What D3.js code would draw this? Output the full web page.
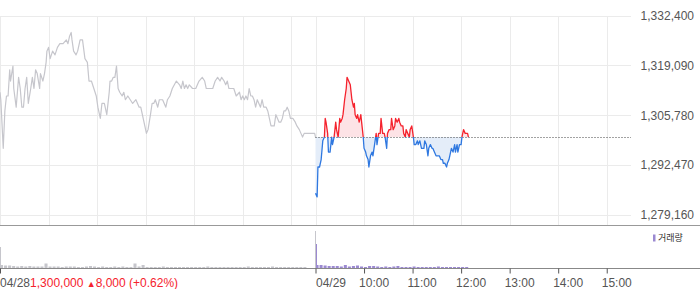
<!DOCTYPE html>
<html>
<head>
<meta charset="utf-8">
<script src="https://cdn.jsdelivr.net/npm/d3@7"></script>
<style>
  html, body { margin: 0; padding: 0; background: #fff; }
  svg { display: block; font-family: 'Liberation Sans', Arial, sans-serif; }
</style>
</head>
<body>
<svg id="chart" width="700" height="289"></svg>
<script>
// Intraday price chart (two sessions) with volume panel

const dates = ['04/28', '04/29'];
const hourLabels = ['10:00', '11:00', '12:00', '13:00', '14:00', '15:00'];
const priceTicks = [1279160, 1292470, 1305780, 1319090, 1332400];
const basePrice = 1300000;        // previous close for 04/29
const closeInfo = ['1,300,000 ', '▲', '8,000 (+0.62%)'];
const legendLabel = '거래량';

// prices in thousand won, [time, price]
const day1Prices = [
  ['09:00', 1312], ['09:01', 1310], ['09:04', 1297], ['09:06', 1307], ['09:08', 1311],
  ['09:10', 1311], ['09:12', 1318], ['09:13', 1315], ['09:16', 1319], ['09:17', 1313],
  ['09:20', 1308], ['09:23', 1316], ['09:25', 1313], ['09:27', 1308], ['09:29', 1308],
  ['09:31', 1313], ['09:33', 1316], ['09:35', 1309], ['09:38', 1313], ['09:40', 1316],
  ['09:42', 1313], ['09:44', 1318], ['09:46', 1317], ['09:49', 1313], ['09:50', 1317],
  ['09:53', 1315], ['09:55', 1317], ['09:57', 1320], ['09:58', 1323], ['10:00', 1324],
  ['10:02', 1321], ['10:05', 1323], ['10:08', 1322], ['10:11', 1324], ['10:14', 1325],
  ['10:18', 1325], ['10:22', 1326], ['10:24', 1325], ['10:26', 1327], ['10:28', 1328],
  ['10:29', 1326], ['10:31', 1323], ['10:34', 1322], ['10:36', 1323], ['10:39', 1326],
  ['10:42', 1326], ['10:45', 1321], ['10:48', 1320], ['10:50', 1315], ['10:53', 1315],
  ['10:56', 1313], ['10:59', 1311], ['11:01', 1308], ['11:04', 1305], ['11:06', 1309],
  ['11:09', 1309], ['11:12', 1306], ['11:15', 1312], ['11:16', 1315], ['11:18', 1315],
  ['11:20', 1316], ['11:22', 1316], ['11:24', 1319], ['11:26', 1313], ['11:28', 1312],
  ['11:31', 1311], ['11:33', 1312], ['11:35', 1310], ['11:38', 1311], ['11:41', 1310],
  ['11:44', 1309], ['11:48', 1310], ['11:52', 1308], ['11:54', 1308], ['11:57', 1305],
  ['11:59', 1303], ['12:01', 1301], ['12:03', 1302], ['12:06', 1306], ['12:08', 1309],
  ['12:10', 1309], ['12:12', 1310], ['12:15', 1308], ['12:17', 1310], ['12:21', 1310],
  ['12:23', 1309], ['12:25', 1308], ['12:27', 1310], ['12:30', 1311], ['12:33', 1313],
  ['12:38', 1315], ['12:42', 1314], ['12:44', 1313], ['12:46', 1315], ['12:48', 1313],
  ['12:50', 1314], ['12:52', 1313], ['12:54', 1314], ['12:58', 1313], ['13:02', 1313],
  ['13:06', 1315], ['13:10', 1316], ['13:13', 1315], ['13:15', 1313], ['13:19', 1313],
  ['13:23', 1313], ['13:26', 1315], ['13:29', 1316], ['13:32', 1315], ['13:34', 1316],
  ['13:37', 1315], ['13:39', 1314], ['13:41', 1315], ['13:43', 1313], ['13:45', 1313],
  ['13:49', 1313], ['13:52', 1311], ['13:56', 1312], ['13:58', 1310], ['14:00', 1311],
  ['14:02', 1310], ['14:04', 1311], ['14:06', 1310], ['14:08', 1313], ['14:10', 1311],
  ['14:12', 1311], ['14:14', 1310], ['14:16', 1308], ['14:18', 1310], ['14:20', 1309],
  ['14:22', 1308], ['14:24', 1310], ['14:26', 1308], ['14:29', 1308], ['14:31', 1307],
  ['14:33', 1305], ['14:35', 1303], ['14:37', 1303], ['14:39', 1303], ['14:41', 1306],
  ['14:43', 1305], ['14:45', 1304], ['14:47', 1304], ['14:49', 1305], ['14:51', 1307],
  ['14:53', 1307], ['14:55', 1308], ['14:57', 1307], ['14:59', 1305], ['15:02', 1305],
  ['15:05', 1304], ['15:07', 1303], ['15:10', 1302], ['15:12', 1301], ['15:14', 1300],
  ['15:16', 1301], ['15:18', 1301], ['15:20', 1301], ['15:29', 1301], ['15:30', 1300],
];

const day2Prices = [
  ['09:00', 1285], ['09:02', 1284], ['09:03', 1292], ['09:05', 1292], ['09:07', 1294],
  ['09:09', 1299], ['09:11', 1300], ['09:12', 1305], ['09:13', 1304], ['09:15', 1301],
  ['09:16', 1296], ['09:18', 1296], ['09:20', 1300], ['09:21', 1298], ['09:23', 1300],
  ['09:25', 1304], ['09:26', 1302], ['09:28', 1300], ['09:30', 1305], ['09:31', 1304],
  ['09:33', 1305], ['09:34', 1306], ['09:36', 1310], ['09:38', 1313], ['09:39', 1316],
  ['09:41', 1315], ['09:43', 1314], ['09:44', 1312], ['09:45', 1310], ['09:47', 1308],
  ['09:48', 1309], ['09:49', 1306], ['09:51', 1305], ['09:52', 1306], ['09:54', 1304],
  ['09:56', 1306], ['09:57', 1304], ['09:59', 1300], ['10:00', 1297], ['10:02', 1296],
  ['10:03', 1295], ['10:05', 1294], ['10:06', 1292], ['10:08', 1295], ['10:10', 1296],
  ['10:11', 1295], ['10:13', 1298], ['10:15', 1301], ['10:16', 1298], ['10:18', 1301],
  ['10:20', 1301], ['10:21', 1305], ['10:23', 1301], ['10:25', 1301], ['10:26', 1300],
  ['10:28', 1297], ['10:29', 1301], ['10:31', 1302], ['10:33', 1302], ['10:34', 1305],
  ['10:36', 1302], ['10:38', 1303], ['10:39', 1305], ['10:41', 1304], ['10:43', 1305],
  ['10:44', 1304], ['10:46', 1303], ['10:48', 1303], ['10:49', 1301], ['10:51', 1300],
  ['10:52', 1302], ['10:54', 1301], ['10:56', 1300], ['10:57', 1302], ['10:59', 1303],
  ['11:01', 1300], ['11:02', 1298], ['11:04', 1298], ['11:06', 1299], ['11:07', 1298],
  ['11:09', 1299], ['11:11', 1297], ['11:12', 1297], ['11:14', 1297], ['11:15', 1299],
  ['11:17', 1298], ['11:19', 1295], ['11:20', 1297], ['11:22', 1298], ['11:24', 1297],
  ['11:25', 1297], ['11:27', 1296], ['11:29', 1295], ['11:30', 1295], ['11:32', 1295],
  ['11:33', 1295], ['11:35', 1294], ['11:37', 1294], ['11:38', 1293], ['11:40', 1293],
  ['11:42', 1292], ['11:43', 1293], ['11:45', 1294], ['11:47', 1296], ['11:48', 1297],
  ['11:50', 1296], ['11:52', 1298], ['11:53', 1296], ['11:55', 1298], ['11:56', 1296],
  ['11:58', 1298], ['12:00', 1298], ['12:01', 1300], ['12:03', 1302], ['12:05', 1301],
  ['12:06', 1301], ['12:08', 1301], ['12:09', 1300],
];

// volume per 5-minute bucket, starting 09:00
const day1Volumes = [
  300, 250, 250, 200, 150, 200, 150, 200, 150, 150,
  150, 450, 150, 150, 150, 100, 150, 150, 150, 100,
  100, 150, 200, 150, 100, 150, 100, 100, 150, 100,
  150, 100, 100, 450, 150, 300, 100, 100, 100, 100,
  150, 100, 100, 100, 100, 100, 100, 100, 100, 100,
  100, 150, 100, 100, 100, 100, 100, 100, 100, 100,
  100, 150, 100, 100, 100, 100, 100, 150, 100, 100,
  100, 100, 100, 100, 100, 100,
];
const day2Volumes = [
  300, 300, 250, 200, 200, 200, 150, 300, 150, 200,
  250, 150, 100, 200, 200, 150, 100, 150, 100, 150,
  200, 100, 100, 100, 150, 100, 100, 100, 100, 100,
  150, 100, 100, 100, 100, 100, 100, 100,
];
// single-price auctions: [day index, time, volume]
const auctionVolumes = [[0, '09:00', 2100], [0, '15:30', 3700], [1, '09:00', 2400]];

// ---- layout ----
const PLOT_RIGHT = 631;
const PANEL_LINE = 225.5;
const VOL_LINE = 268.5;
const GRAY = '#c6c6cc', RED = '#f5222d', BLUE = '#2f78e0';
const RED_FILL = '#fde3e6', BLUE_FILL = '#e4edf9', PURPLE = '#9b89d1';

const toMinute = (day, hhmm) => {
  const [h, m] = hhmm.split(':').map(Number);
  return day * 390 + (h - 9) * 60 + m;
};
const crisp = v => Math.round(v) + 0.5;

const x = d3.scaleLinear().domain([0, 780]).range([0, PLOT_RIGHT]);
const y = d3.scaleLinear().domain([priceTicks[0], priceTicks[priceTicks.length - 1]]).range([215, 16]);
const yVol = d3.scaleLinear().domain([0, 4000]).range([268, 228]);

const svg = d3.select('#chart');

const s1 = day1Prices.map(([t, p]) => ({ t: toMinute(0, t), p: p * 1000 }));
const s2 = day2Prices.map(([t, p]) => ({ t: toMinute(1, t), p: p * 1000 }));

// Grid
const vMinutes = [0, 390];
[0, 1].forEach(d => hourLabels.forEach(h => vMinutes.push(toMinute(d, h))));

const grid = svg.append('g').attr('stroke', '#ebebeb').attr('stroke-width', 1);
grid.selectAll('line.h')
  .data(priceTicks)
  .join('line')
  .attr('class', 'h')
  .attr('x1', 0).attr('x2', PLOT_RIGHT)
  .attr('y1', d => crisp(y(d) - 0.5)).attr('y2', d => crisp(y(d) - 0.5));
grid.selectAll('line.v')
  .data(vMinutes)
  .join('line')
  .attr('class', 'v')
  .attr('x1', d => crisp(x(d))).attr('x2', d => crisp(x(d)))
  .attr('y1', 16).attr('y2', PANEL_LINE);

// Price labels
svg.append('g')
  .selectAll('text')
  .data(priceTicks)
  .join('text')
  .attr('x', 694)
  .attr('y', d => y(d))
  .attr('dy', '0.35em')
  .attr('text-anchor', 'end')
  .attr('font-size', 12)
  .attr('fill', '#555')
  .text(d3.format(','));

// Previous day, gray
const line = d3.line().x(d => x(d.t)).y(d => y(d.p));
svg.append('path')
  .datum(s1)
  .attr('d', line)
  .attr('fill', 'none')
  .attr('stroke', GRAY)
  .attr('stroke-width', 1.2)
  .attr('stroke-linejoin', 'round');

// Today: split above / below the previous close
const baseY = y(basePrice);
const defs = svg.append('defs');
defs.append('clipPath').attr('id', 'clip-up')
  .append('rect').attr('x', 0).attr('y', 0).attr('width', 700).attr('height', baseY);
defs.append('clipPath').attr('id', 'clip-down')
  .append('rect').attr('x', 0).attr('y', baseY).attr('width', 700).attr('height', PANEL_LINE - baseY);

const area = d3.area().x(d => x(d.t)).y0(baseY).y1(d => y(d.p));

[['clip-up', RED_FILL], ['clip-down', BLUE_FILL]].forEach(([id, fill]) => {
  svg.append('path').datum(s2)
    .attr('clip-path', `url(#${id})`)
    .attr('d', area)
    .attr('fill', fill);
});

svg.append('line')
  .attr('x1', x(390)).attr('x2', PLOT_RIGHT)
  .attr('y1', crisp(baseY - 0.5)).attr('y2', crisp(baseY - 0.5))
  .attr('stroke', '#444')
  .attr('stroke-dasharray', '1,2');

[['clip-up', RED], ['clip-down', BLUE]].forEach(([id, color]) => {
  svg.append('path').datum(s2)
    .attr('clip-path', `url(#${id})`)
    .attr('d', line)
    .attr('fill', 'none')
    .attr('stroke', color)
    .attr('stroke-width', 1.3)
    .attr('stroke-linejoin', 'round');
});

// Panel separators
svg.append('line')
  .attr('x1', 0).attr('x2', 700).attr('y1', PANEL_LINE).attr('y2', PANEL_LINE)
  .attr('stroke', '#999');

// Volume bars
const bucketW = Math.max(1, x(5) - x(0) - 1);
const volBars = [];
day1Volumes.forEach((v, i) => volBars.push({ t: i * 5, v, day: 0 }));
day2Volumes.forEach((v, i) => volBars.push({ t: 390 + i * 5, v, day: 1 }));

svg.append('g')
  .selectAll('rect')
  .data(volBars)
  .join('rect')
  .attr('x', d => x(d.t))
  .attr('y', d => yVol(d.v))
  .attr('width', bucketW)
  .attr('height', d => yVol(0) - yVol(d.v))
  .attr('fill', d => d.day === 0 ? GRAY : PURPLE);

svg.append('g')
  .selectAll('rect')
  .data(auctionVolumes)
  .join('rect')
  .attr('x', d => Math.round(x(toMinute(d[0], d[1]))) - (d[1] === '15:30' ? 1 : 0))
  .attr('y', d => yVol(d[2]))
  .attr('width', 1)
  .attr('height', d => yVol(0) - yVol(d[2]))
  .attr('fill', d => d[0] === 0 ? GRAY : PURPLE);

svg.append('line')
  .attr('x1', 0).attr('x2', 700).attr('y1', VOL_LINE).attr('y2', VOL_LINE)
  .attr('stroke', '#888');

// Time axis ticks
const tickMinutes = [0, 390, ...hourLabels.map(h => toMinute(1, h))];
svg.append('g')
  .attr('transform', `translate(0, ${VOL_LINE})`)
  .call(d3.axisBottom(x).tickValues(tickMinutes).tickSize(5).tickSizeOuter(0).tickFormat(''))
  .call(g => g.select('.domain').remove())
  .call(g => g.selectAll('line').attr('stroke', '#555'));

// Time labels
const labels = svg.append('g').attr('font-size', 12).attr('fill', '#555');
labels.selectAll('text.hour')
  .data(hourLabels)
  .join('text')
  .attr('class', 'hour')
  .attr('x', d => x(toMinute(1, d)) - 5)
  .attr('y', 287)
  .text(d => d);

labels.append('text').attr('x', x(390) + 0.5).attr('y', 287).text(dates[1]);

const first = labels.append('text').attr('x', 0).attr('y', 287);
first.append('tspan').text(dates[0]);
first.append('tspan').attr('fill', RED).text(closeInfo[0]);
first.append('tspan').attr('fill', RED).attr('font-size', 9).text(closeInfo[1]);
first.append('tspan').attr('fill', RED).text(closeInfo[2]);

// Legend
svg.append('rect')
  .attr('x', 653).attr('y', 234.5).attr('width', 2.5).attr('height', 7)
  .attr('fill', PURPLE);
svg.append('text')
  .attr('x', 658).attr('y', 238).attr('dy', '0.35em')
  .attr('font-family', "'Noto Sans CJK KR', sans-serif")
  .attr('font-size', 9)
  .attr('fill', '#333')
  .text(legendLabel);
</script>
</body>
</html>
